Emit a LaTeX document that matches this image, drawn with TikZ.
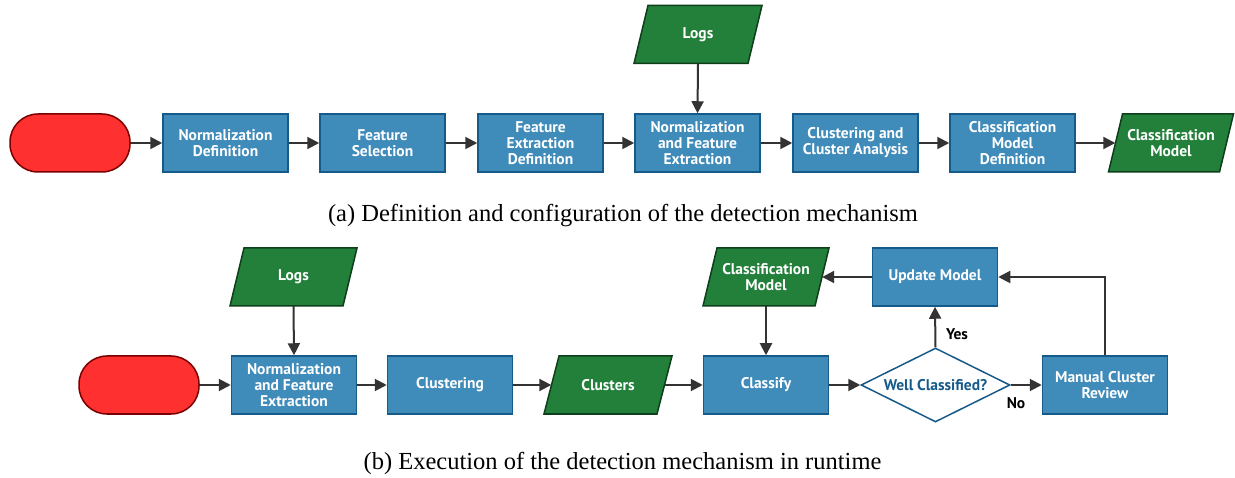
\documentclass[tikz,border=0pt]{standalone}
\usepackage{fontspec}
\setmainfont{Liberation Serif}
\setsansfont{PT Sans}
\usetikzlibrary{arrows.meta,shapes.geometric}
\definecolor{boxblue}{RGB}{63,139,186}
\definecolor{boxbluedark}{RGB}{22,90,138}
\definecolor{iogreen}{RGB}{34,128,59}
\definecolor{iogreendark}{RGB}{14,62,26}
\definecolor{termred}{RGB}{255,48,48}
\definecolor{termreddark}{RGB}{122,0,0}
\definecolor{arrowgray}{RGB}{51,51,51}
\newcommand\boxfont{\sffamily\bfseries\fontsize{15.5}{16}\selectfont}
\newcommand\capfont{\rmfamily\fontsize{24.5}{28}\selectfont}
% name, cx, cy, half-width, half-skew, text
\newcommand\ioshape[6]{%
  \filldraw[fill=iogreen,draw=iogreendark,line width=1.5pt]
    (#2-#4+#5,#3-29) -- (#2+#4+#5,#3-29) -- (#2+#4-#5,#3+29) -- (#2-#4-#5,#3+29) -- cycle;
  \node[iotext, minimum width=2*#4] (#1) at (#2,#3) {#6};}
\tikzset{
  proc/.style={rectangle, fill=boxblue, draw=boxbluedark, line width=1.5pt,
    minimum width=125pt, minimum height=58pt, inner sep=0pt, text=white,
    font=\boxfont, align=center},
  iotext/.style={rectangle, minimum height=58pt, inner sep=0pt, text=white,
    font=\boxfont, align=center},
  term/.style={rectangle, rounded corners=28pt, fill=termred, draw=termreddark,
    line width=1.5pt, minimum width=120pt, minimum height=58pt},
  decision/.style={diamond, aspect=2, fill=white, draw=boxbluedark, line width=1.5pt,
    text=boxbluedark, font=\boxfont, minimum width=149pt, minimum height=74pt, inner sep=0pt},
  flow/.style={draw=arrowgray, line width=2pt, -{Triangle[length=12pt,width=12pt]}},
  lbl/.style={font=\boxfont, text=black, inner sep=0pt},
  captext/.style={font=\capfont, inner sep=0pt, anchor=base}
}
\begin{document}
\begin{tikzpicture}[x=1pt, y=-1pt]
\useasboundingbox (0,0) rectangle (1235,478);
% ---------- (a) ----------
\node[term] (startA) at (70,143) {};
\node[proc] (normdef) at (225.5,143) {Normalization\\Definition};
\node[proc] (featsel) at (382.5,143) {Feature\\Selection};
\node[proc] (featext) at (540.5,143) {Feature\\Extraction\\Definition};
\node[proc] (normfeA) at (697.5,143) {Normalization\\and Feature\\Extraction};
\node[proc] (clust) at (855.5,143) {Clustering and\\Cluster Analysis};
\node[proc] (cmdef) at (1012.5,143) {Classification\\Model\\Definition};
\ioshape{cmodelA}{1171}{143}{55.5}{7}{Classification\\Model}
\ioshape{logsA}{698}{34.5}{57}{7}{Logs}
\draw[flow] (startA) -- (normdef);
\draw[flow] (normdef) -- (featsel);
\draw[flow] (featsel) -- (featext);
\draw[flow] (featext) -- (normfeA);
\draw[flow] (normfeA) -- (clust);
\draw[flow] (clust) -- (cmdef);
\draw[flow] (cmdef) -- (cmodelA.west);
\draw[flow] (logsA.south) -- (normfeA.north);
\node[captext] (capA) at (623,222) {(a) Definition and configuration of the detection mechanism};
% ---------- (b) ----------
\node[term] (startB) at (139,385) {};
\node[proc] (normfeB) at (294,385) {Normalization\\and Feature\\Extraction};
\node[proc] (clustering) at (450,385) {Clustering};
\ioshape{clusters}{608}{385}{56.5}{7.5}{Clusters}
\node[proc] (classify) at (766,385) {Classify};
\node[decision] (wellc) at (935.5,385) {Well Classified?};
\node[proc] (manual) at (1105,385) {Manual Cluster\\Review};
\node[proc] (update) at (935,277) {Update Model};
\ioshape{cmodelB}{766}{277}{56}{7}{Classification\\Model}
\ioshape{logsB}{293.5}{277}{56.5}{7}{Logs}
\draw[flow] (startB) -- (normfeB);
\draw[flow] (logsB.south) -- (normfeB.north);
\draw[flow] (normfeB) -- (clustering);
\draw[flow] (clustering) -- (clusters.west);
\draw[flow] (clusters.east) -- (classify);
\draw[flow] (cmodelB.south) -- (classify.north);
\draw[flow] (classify) -- (wellc.west);
\draw[flow] (wellc.north) -- (update.south);
\draw[flow] (wellc.east) -- (manual.west);
\draw[flow] (manual.north) |- (update.east);
\draw[flow] (update.west) -- (cmodelB.east);
\node[lbl] (yes) at (957,334) {Yes};
\node[lbl] (no) at (1016,403) {No};
\node[captext] (capB) at (622.5,469) {(b) Execution of the detection mechanism in runtime};
\end{tikzpicture}
\end{document}
